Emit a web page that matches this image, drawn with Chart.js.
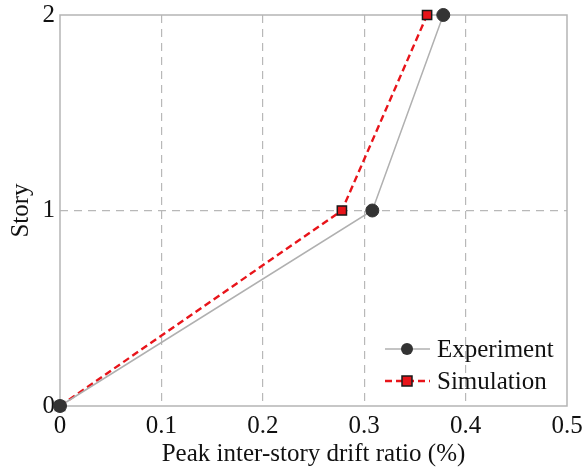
<!DOCTYPE html>
<html>
<head>
<meta charset="utf-8">
<script src="https://cdn.jsdelivr.net/npm/chart.js@4"></script>
<style>
html,body{margin:0;padding:0;background:#fff}
#wrap{width:583px;height:469px}
</style>
</head>
<body>
<div id="wrap"><canvas id="driftChart" width="583" height="469"></canvas></div>
<script>
// story levels and peak drift ratios (%)
const stories = [0, 1, 2]
const experimentDrift = [0, 0.308, 0.378]
const simulationDrift = [0, 0.278, 0.362]
const xTicks = [0, 0.1, 0.2, 0.3, 0.4, 0.5]
const yTicks = [0, 1, 2]

const serif = "'Liberation Serif', 'DejaVu Serif', serif"

function toPoints(xs){
  return stories.map((s,i)=>({x:xs[i], y:s}))
}

// frame round the plot area + legend with line and marker
const framePlugin = {
  id:'frame',
  beforeDatasetsDraw(chart){
    const ctx = chart.ctx
    const a = chart.chartArea
    ctx.save()
    ctx.strokeStyle = '#b5b5b5'
    ctx.lineWidth = 1.5
    ctx.strokeRect(a.left, a.top, a.right-a.left, a.bottom-a.top)
    ctx.restore()
  },
  afterDraw(chart){
    const ctx = chart.ctx
    ctx.save()
    const rows = [
      {text:'Experiment', y:349, ds:chart.data.datasets[0]},
      {text:'Simulation', y:381, ds:chart.data.datasets[1]}
    ]
    rows.forEach(r=>{
      ctx.setLineDash(r.ds.borderDash || [])
      ctx.strokeStyle = r.ds.borderColor
      ctx.lineWidth = r.ds.borderWidth
      ctx.beginPath()
      ctx.moveTo(385, r.y)
      ctx.lineTo(430, r.y)
      ctx.stroke()
      ctx.setLineDash([])
      ctx.fillStyle = r.ds.pointBackgroundColor
      ctx.strokeStyle = r.ds.pointBorderColor
      ctx.lineWidth = r.ds.pointBorderWidth
      if(r.ds.pointStyle === 'rect'){
        ctx.fillRect(402, r.y-5, 10, 10)
        ctx.strokeRect(402, r.y-5, 10, 10)
      } else {
        ctx.beginPath()
        ctx.arc(407, r.y, 6, 0, Math.PI*2)
        ctx.fill()
      }
      ctx.fillStyle = '#111'
      ctx.font = '25px ' + serif
      ctx.textBaseline = 'middle'
      ctx.fillText(r.text, 437, r.y+1)
    })
    ctx.restore()
  }
}

const ctx = document.getElementById('driftChart').getContext('2d')

new Chart(ctx,{
  type:'scatter',
  data:{
    datasets:[
      {
        label:'Experiment',
        data:toPoints(experimentDrift),
        showLine:true,
        clip:false,
        borderColor:'#b0b0b0',
        borderWidth:1.5,
        pointStyle:'circle',
        pointRadius:6.5,
        pointBackgroundColor:'#333333',
        pointBorderColor:'#333333',
        pointBorderWidth:1
      },
      {
        label:'Simulation',
        data:toPoints(simulationDrift),
        showLine:true,
        clip:false,
        borderColor:'#e8141a',
        borderWidth:2.4,
        borderDash:[7,4],
        pointStyle:'rect',
        pointRadius:6.5,
        pointBackgroundColor:'#e8141a',
        pointBorderColor:'#1a1a1a',
        pointBorderWidth:1.5
      }
    ]
  },
  options:{
    responsive:false,
    animation:false,
    layout:{padding:{top:15, right:16, left:0, bottom:0}},
    plugins:{legend:{display:false}, tooltip:{enabled:false}},
    scales:{
      x:{
        type:'linear', min:0, max:0.5,
        afterBuildTicks(scale){ scale.ticks = xTicks.map(v=>({value:v})) },
        afterFit(scale){ scale.height = 63; scale.paddingLeft = 0; scale.paddingRight = 0 },
        ticks:{
          color:'#111', padding:5,
          font:{family:serif, size:25},
          callback:v=>String(Number(v.toFixed(1)))
        },
        grid:{
          color:c=>(c.tick && (c.tick.value===0 || c.tick.value===0.5)) ? 'rgba(0,0,0,0)' : '#b8b8b8',
          lineWidth:1.2, drawTicks:false
        },
        border:{display:false, dash:[8,6]},
        title:{display:true, text:'Peak inter-story drift ratio (%)', color:'#111', font:{family:serif, size:25}, padding:{top:0, bottom:0}}
      },
      y:{
        type:'linear', min:0, max:2,
        afterBuildTicks(scale){ scale.ticks = yTicks.map(v=>({value:v})) },
        afterFit(scale){ scale.width = 60; scale.paddingTop = 0; scale.paddingBottom = 0 },
        ticks:{
          color:'#111', padding:5,
          font:{family:serif, size:25}
        },
        grid:{
          color:c=>(c.tick && (c.tick.value===0 || c.tick.value===2)) ? 'rgba(0,0,0,0)' : '#b8b8b8',
          lineWidth:1.2, drawTicks:false
        },
        border:{display:false, dash:[8,6]},
        title:{display:true, text:'Story', color:'#111', font:{family:serif, size:25}, padding:{top:6, bottom:0}}
      }
    }
  },
  plugins:[framePlugin]
})
</script>
</body>
</html>
